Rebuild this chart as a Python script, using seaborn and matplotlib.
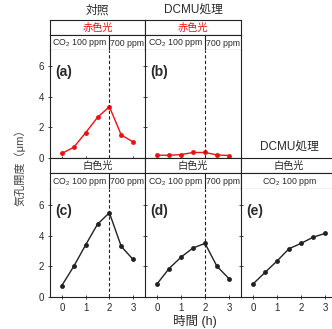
import numpy as np
import pandas as pd
import matplotlib
matplotlib.use("Agg")
import matplotlib.pyplot as plt
import seaborn as sns

# data (stomatal aperture, um)
time_h = [0, 0.5, 1, 1.5, 2, 2.5, 3]
a_red = [0.3, 0.7, 1.65, 2.65, 3.35, 1.5, 1.05]
b_red = [0.18, 0.18, 0.22, 0.36, 0.36, 0.2, 0.16]
c_white = [0.75, 2.0, 3.4, 4.75, 5.5, 3.3, 2.45]
d_white = [0.85, 1.85, 2.6, 3.2, 3.5, 2.0, 1.2]
e_white = [0.85, 1.6, 2.35, 3.15, 3.5, 3.9, 4.15]

panel_names = ["a", "b", "c", "d", "e"]
col_titles = ["対照", "DCMU処理", "DCMU処理"]
light_labels = ["赤色光", "赤色光", "白色光", "白色光", "白色光"]
yticks = [0, 2, 4, 6]
xticks = [0, 1, 2, 3]

sns.set_theme(style="ticks")
plt.rcParams["font.family"] = ["Liberation Sans", "Noto Sans CJK JP"]
plt.rcParams["mathtext.fontset"] = "custom"
plt.rcParams["mathtext.rm"] = "Liberation Sans"
plt.rcParams["axes.linewidth"] = 0.8

df = pd.concat([
    pd.DataFrame({"time": time_h, "width": vals, "panel": p})
    for p, vals in zip(panel_names, [a_red, b_red, c_white, d_white, e_white])
])

W, H = 332, 329
fig = plt.figure(figsize=(W / 100, H / 100), dpi=100)


def px_axes(x0, y0, x1, y1):
    return fig.add_axes([x0 / W, 1 - y1 / H, (x1 - x0) / W, (y1 - y0) / H])


TXT = "#2a2a2a"
LINE = "#222222"
cols = {"a": (50, 145), "b": (145, 241), "c": (50, 145), "d": (145, 241), "e": (241, 337)}
rows = {"a": 0, "b": 0, "c": 1, "d": 1, "e": 1}
row_y = [(20, 35, 50, 158), (158, 173, 189, 297)]

for p in panel_names:
    x0, x1 = cols[p]
    h0, h1, top, bot = row_y[rows[p]]
    red = rows[p] == 0
    color = "#ee1111" if red else "#222222"

    # light header
    hax = px_axes(x0, h0, x1, h1)
    hax.set_xticks([]); hax.set_yticks([])
    for s in hax.spines.values():
        s.set_visible(True); s.set_linewidth(0.8); s.set_color(LINE)
    hax.text(0.5, 0.45, light_labels[panel_names.index(p)], ha="center", va="center",
             fontsize=7.3, color="#ee1111" if red else TXT, transform=hax.transAxes)

    # CO2 header
    cax = px_axes(x0, h1, x1, top)
    cax.set_xlim(-0.5, 3.5); cax.set_ylim(0, 1)
    cax.set_xticks([]); cax.set_yticks([])
    for s in cax.spines.values():
        s.set_visible(True); s.set_linewidth(0.8); s.set_color(LINE)
    if p == "e":
        cax.text(1.5, 0.45, "CO$_2$ 100 ppm", ha="center", va="center", fontsize=6.3, color=TXT)
    else:
        cax.axvline(2, color=LINE, lw=0.8)
        cax.text(0.75, 0.45, "CO$_2$ 100 ppm", ha="center", va="center", fontsize=6.3, color=TXT)
        cax.text(2.75, 0.45, "700 ppm", ha="center", va="center", fontsize=6.3, color=TXT)

    # data panel
    ax = px_axes(x0, top, x1, bot)
    sns.lineplot(data=df[df["panel"] == p], x="time", y="width", ax=ax, color=color,
                 marker="o", markersize=3.5, markeredgewidth=0, linewidth=1)
    if p != "e":
        ax.axvline(2, color=LINE, lw=0.8, ls=(0, (3, 2)))
    ax.set_xlim(-0.5, 3.5)
    ax.set_ylim(0, 7.05)
    ax.set_xticks(xticks)
    ax.set_yticks(yticks)
    ax.set_xlabel(""); ax.set_ylabel("")
    ax.spines["top"].set_visible(False)
    ax.spines["right"].set_visible(p == "b")
    for s in ax.spines.values():
        s.set_color(LINE)
    ax.tick_params(axis="both", labelsize=7, labelcolor=TXT, length=3, width=0.6,
                   direction="inout", pad=3, colors=LINE)
    if p not in ("a", "c"):
        ax.tick_params(axis="y", labelleft=False)
    if rows[p] == 0:
        ax.tick_params(axis="x", labelbottom=False)
    ax.text(0.05, 0.8, f"({p})", transform=ax.transAxes, fontsize=10,
            fontweight="bold", va="center", ha="left", color=TXT)

# column titles and axis labels
fig.text(97 / W, 1 - 11 / H, col_titles[0], ha="center", va="center", fontsize=8.5, color=TXT)
fig.text(193 / W, 1 - 11 / H, col_titles[1], ha="center", va="center", fontsize=8.5, color=TXT)
fig.text(289 / W, 1 - 148 / H, col_titles[2], ha="center", va="center", fontsize=8.5, color=TXT)
fig.text(20 / W, 1 - 165 / H, "気孔開度（μm）", rotation=90, ha="center", va="center",
         fontsize=8, color="#444444")
fig.text(195 / W, 1 - 322 / H, "時間 (h)", ha="center", va="center", fontsize=9, color=TXT)

fig.savefig("out.png", dpi=100)
